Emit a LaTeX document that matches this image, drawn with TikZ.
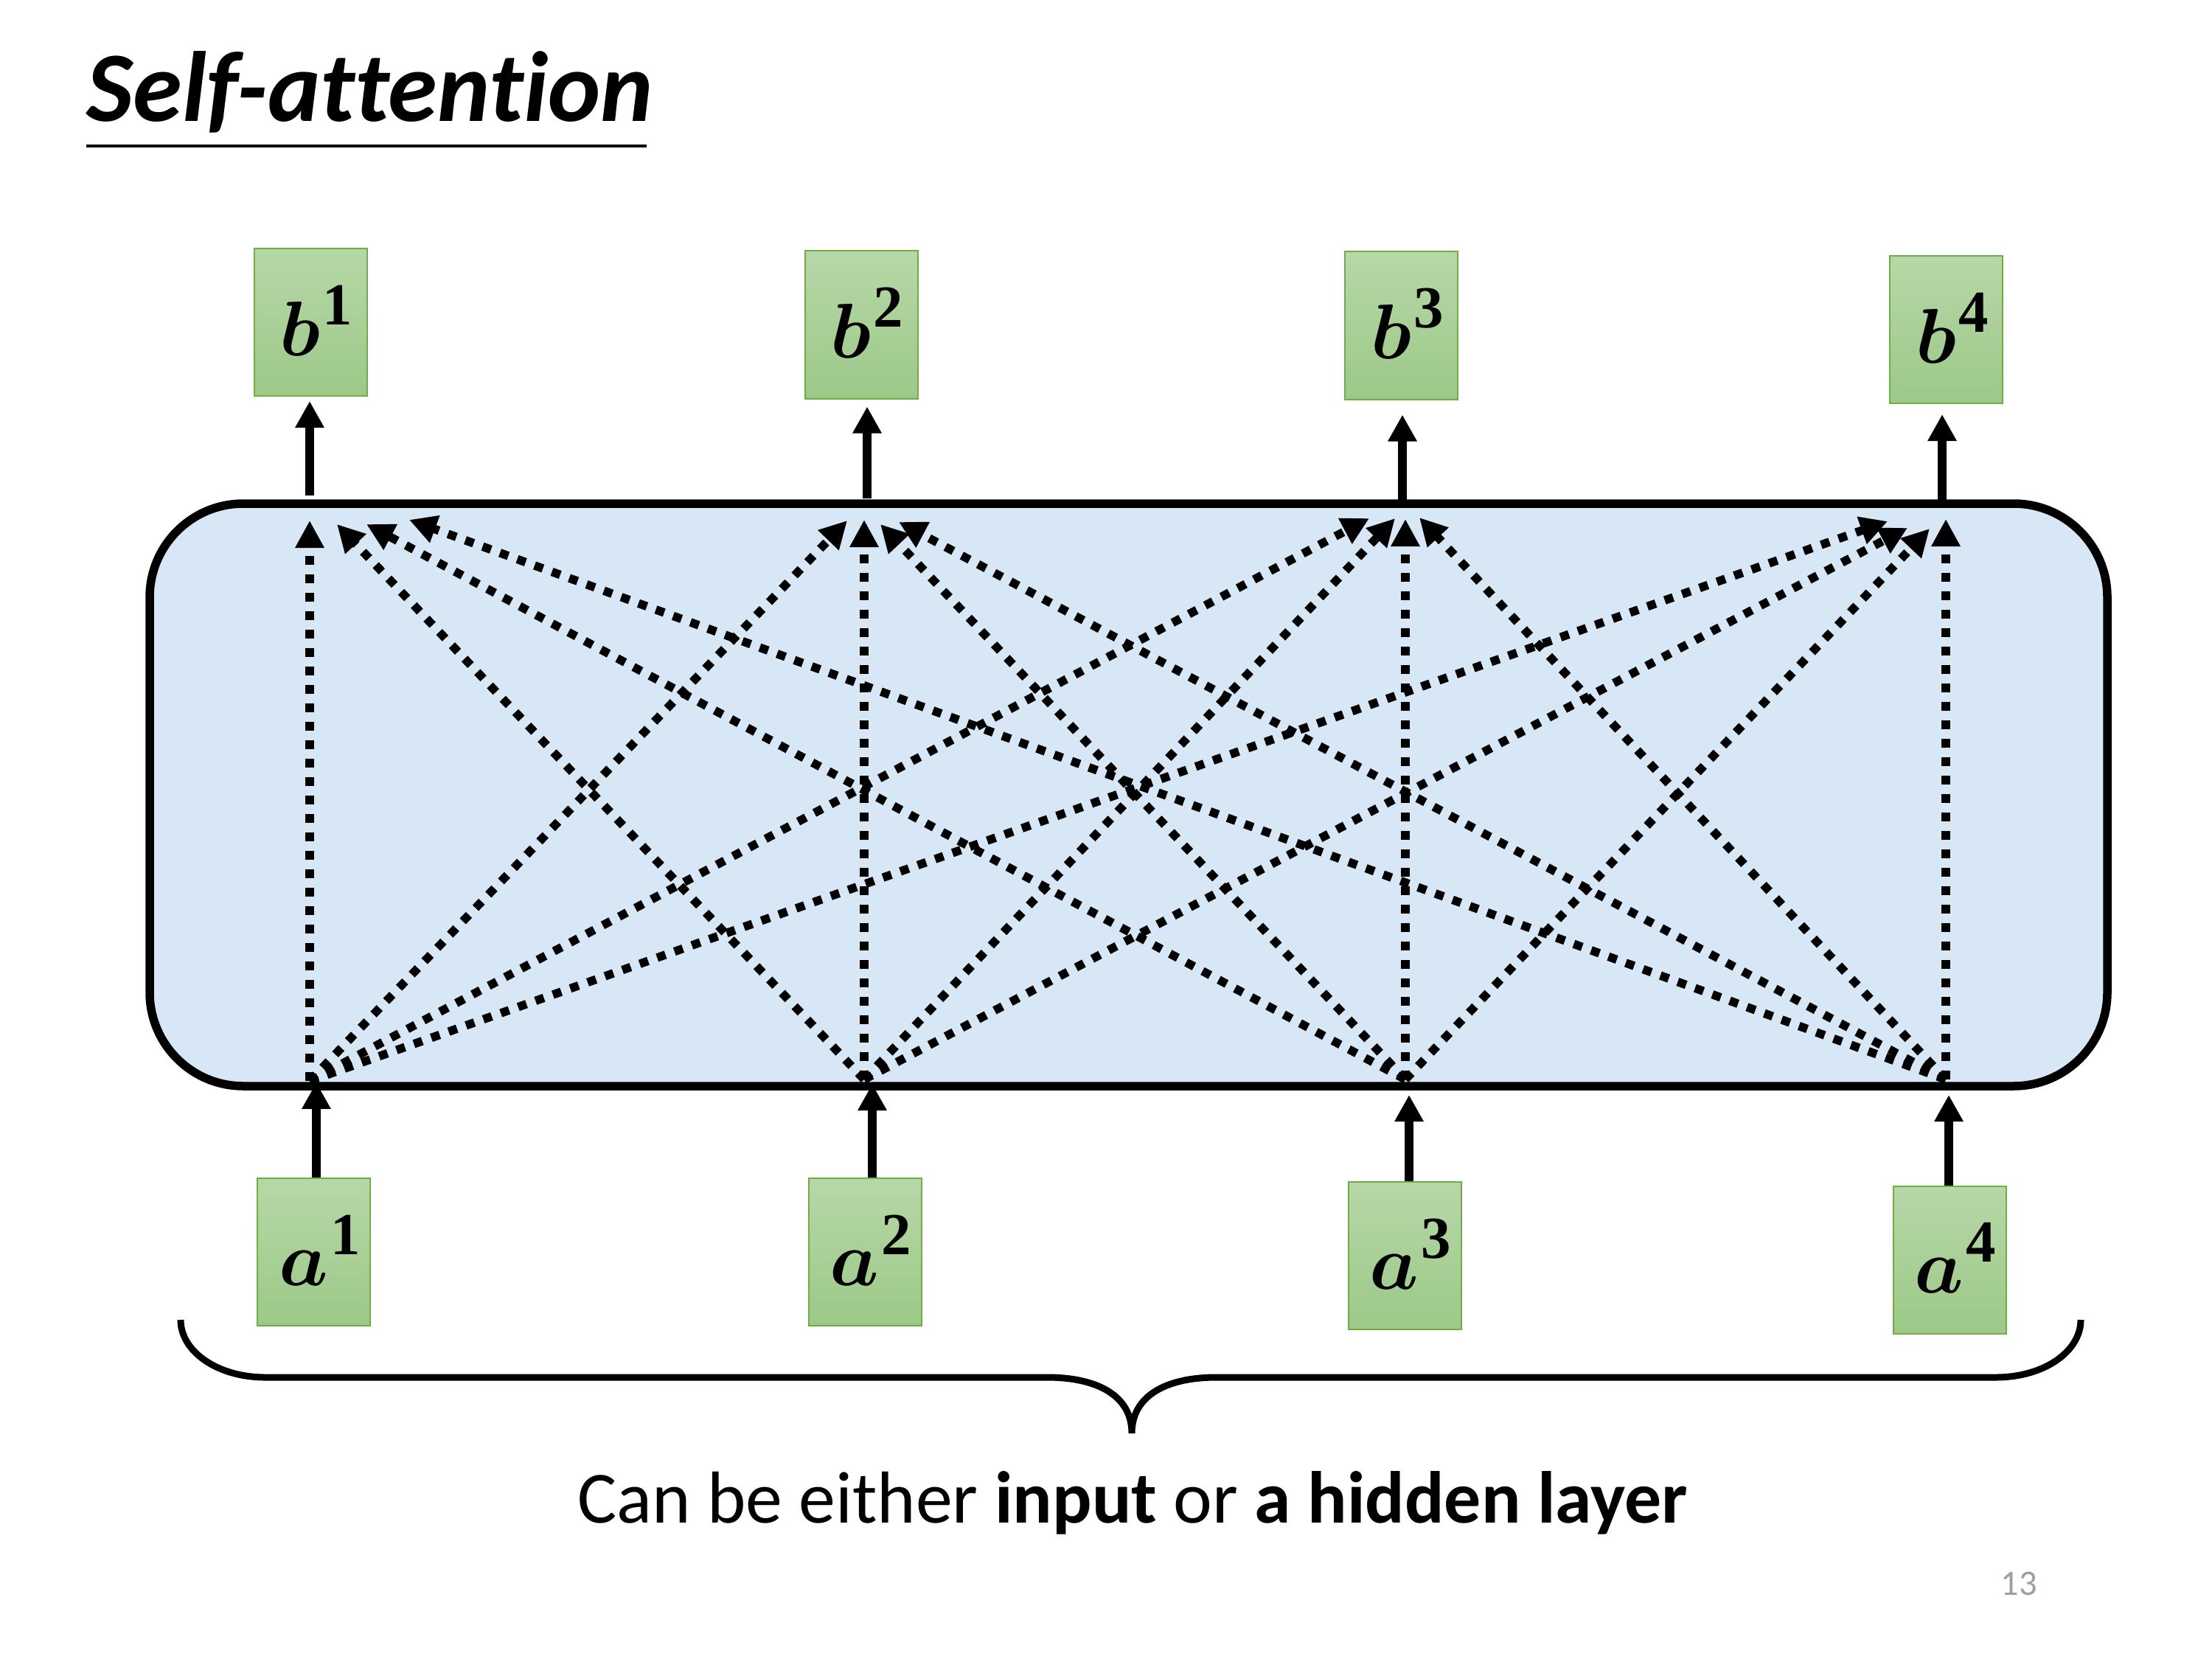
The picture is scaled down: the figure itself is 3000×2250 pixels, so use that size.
\documentclass[tikz,border=0pt]{standalone}
\usepackage{fix-cm}
\usepackage{amsmath}
\usepackage[no-math]{fontspec}
\newfontfamily\calibri[Ligatures=NoCommon]{Carlito}
\newfontfamily\supfont{Liberation Serif}
\usetikzlibrary{arrows.meta}
\definecolor{boxtop}{RGB}{183,215,167}
\definecolor{boxbot}{RGB}{156,201,136}
\definecolor{boxline}{RGB}{112,173,71}
\definecolor{bandfill}{RGB}{216,231,246}
\definecolor{pggray}{RGB}{160,160,160}
\newcommand{\veclab}[2]{\kern1.6mm\raisebox{0.5mm}{$\boldsymbol{#1}$\kern0.03em\raisebox{0.40em}{\supfont\bfseries\fontsize{23}{23}\selectfont #2}}}
\begin{document}
\begin{tikzpicture}[x=0.1mm, y=-0.1mm,
  vecbox/.style={draw=boxline, line width=0.2mm, top color=boxtop, bottom color=boxbot,
    minimum width=15.3mm, minimum height=20mm, inner sep=0pt,
    font=\fontsize{30}{36}\selectfont},
  bandbox/.style={fill=bandfill, draw=black, line width=1.15mm, rounded corners=12.7mm,
    minimum width=265.5mm, minimum height=79mm, inner sep=0pt},
  flow/.style={line width=1.2mm, -{Triangle[width=3.7mm,length=3.6mm]}},
  attn/.style={line width=1.15mm, dash pattern=on 1.2mm off 1.3mm,
    -{Triangle[width=3.7mm,length=3.7mm]}},
  bracestyle/.style={line width=0.9mm}]
\useasboundingbox (0,0) rectangle (3000,2250);

% title
\node[anchor=base west, inner sep=0pt, font=\calibri\bfseries\itshape\fontsize{38.5}{46}\selectfont] (title) at (117,165) {Self-attention};
\draw[line width=0.4mm] (117,198) -- (877,198);

% band
\node[bandbox] (band) at (1530.5,1078) {};

% output boxes
\node[vecbox] (b1) at (421,437) {\veclab{b}{1}};
\node[vecbox] (b2) at (1168,440.5) {\veclab{b}{2}};
\node[vecbox] (b3) at (1900.5,441.5) {\veclab{b}{3}};
\node[vecbox] (b4) at (2639.5,447) {\veclab{b}{4}};
% input boxes
\node[vecbox] (a1) at (425.5,1698) {\veclab{a}{1}};
\node[vecbox] (a2) at (1173,1698) {\veclab{a}{2}};
\node[vecbox] (a3) at (1905,1703) {\veclab{a}{3}};
\node[vecbox] (a4) at (2644,1708.5) {\veclab{a}{4}};

% sources on the band
\coordinate (s1) at (420,1466);
\coordinate (s2) at (1172,1464);
\coordinate (s3) at (1906,1464);
\coordinate (s4) at (2639,1464);
% targets
\coordinate (t11) at (420,706);  \coordinate (t21) at (457,711);  \coordinate (t31) at (497,711);  \coordinate (t41) at (555,705);
\coordinate (t12) at (1149,706); \coordinate (t22) at (1172,705); \coordinate (t32) at (1194,711); \coordinate (t42) at (1219,708);
\coordinate (t13) at (1857,703); \coordinate (t23) at (1892,703); \coordinate (t33) at (1906,704); \coordinate (t43) at (1925,702);
\coordinate (t14) at (2560,707); \coordinate (t24) at (2587,716); \coordinate (t34) at (2617,717); \coordinate (t44) at (2639,704);

\foreach \i in {1,...,4}{
  \foreach \j in {1,...,4}{
    \draw[attn] (s\i) -- (t\i\j);
  }
}

% input arrows
\coordinate (ia1) at (429,1468);
\coordinate (ia2) at (1183,1470);
\coordinate (ia3) at (1911,1485);
\coordinate (ia4) at (2643,1485);
\foreach \k in {1,...,4}{
  \draw[flow] (a\k.north -| ia\k) -- (ia\k);
}

% output arrows
\coordinate (ob1) at (420,672);
\coordinate (ob2) at (1176,676);
\coordinate (ob3) at (1902,680);
\coordinate (ob4) at (2634,680);
\draw[flow, shorten >=0.6mm] (ob1) -- (b1.south -| ob1);
\draw[flow, shorten >=1.0mm] (ob2) -- (b2.south -| ob2);
\draw[flow, shorten >=2.0mm] (ob3) -- (b3.south -| ob3);
\draw[flow, shorten >=1.4mm] (ob4) -- (b4.south -| ob4);

% brace
\draw[bracestyle] (245,1790) .. controls (245,1833) and (295,1868) .. (360,1868)
  -- (1420,1868) .. controls (1487,1868) and (1535,1892) .. (1535,1944)
  .. controls (1535,1892) and (1583,1868) .. (1650,1868)
  -- (2707,1868) .. controls (2772,1868) and (2822,1833) .. (2822,1790);

% caption
\node[anchor=base, inner sep=0pt, font=\calibri\fontsize{28.4}{34}\selectfont] (caption) at (1536,2065)
  {Can be either \textbf{input} or \textbf{a hidden layer}};
% page number
\node[anchor=base, inner sep=0pt, text=pggray, font=\calibri\fontsize{13.8}{16}\selectfont] (pgnum) at (2738,2163) {13};
\end{tikzpicture}
\end{document}
